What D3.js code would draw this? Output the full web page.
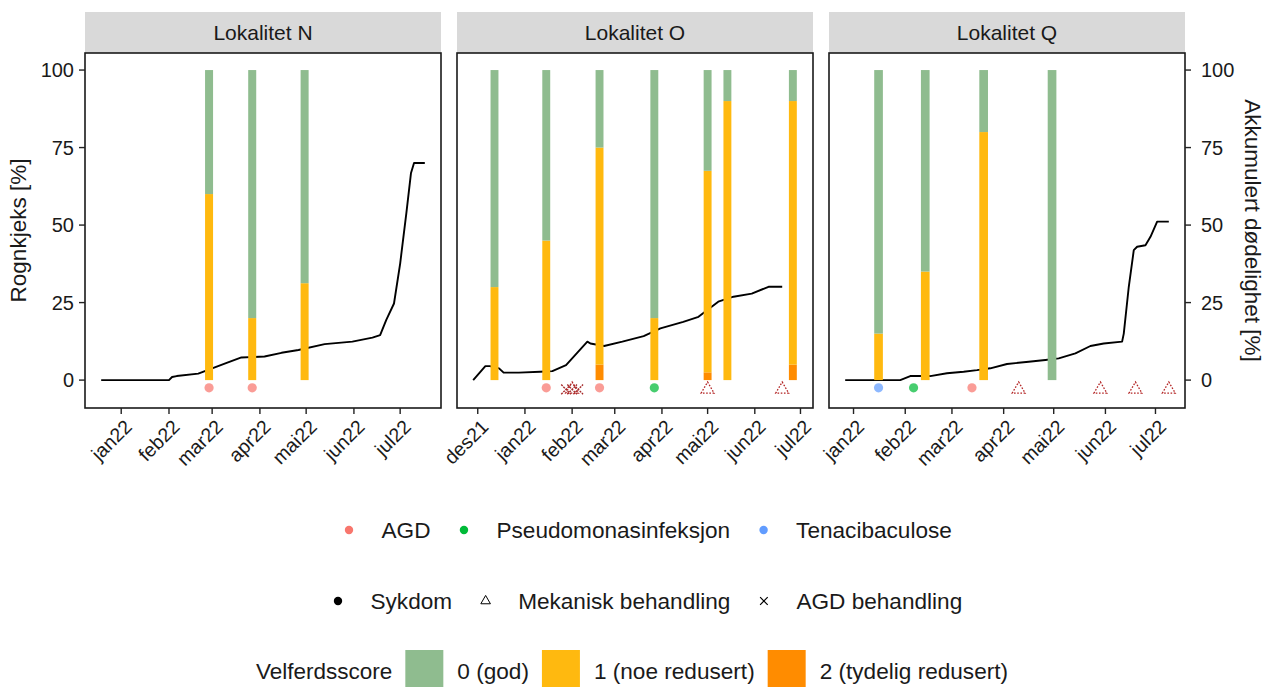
<!DOCTYPE html>
<html><head><meta charset="utf-8">
<script src="https://cdn.jsdelivr.net/npm/d3@7"></script>
<style>
body{margin:0;background:#fff}
svg{display:block}
text{font-family:"Liberation Sans",Arial,Helvetica,sans-serif;fill:#1a1a1a}
</style>
</head><body>
<svg id="chart" width="1267" height="687"></svg>
<script>
// ---------- DATA ----------
const panelNames = ["Lokalitet N", "Lokalitet O", "Lokalitet Q"];
const monthLabels = ["jan","feb","mar","apr","mai","jun","jul","aug","sep","okt","nov","des"];
const yTickValues = [0, 25, 50, 75, 100];

// Accumulated mortality [%] (right axis)
const mortalityN = [["2021-12-19",0],["2022-02-01",0],["2022-02-03",1.0],["2022-02-06",1.3],["2022-02-20",2.1],
  ["2022-03-01",3.8],["2022-03-10",5.5],["2022-03-20",7.3],["2022-04-04",7.6],["2022-04-15",8.8],["2022-04-26",9.7],
  ["2022-05-13",11.6],["2022-05-31",12.4],["2022-06-13",13.7],["2022-06-18",14.5],["2022-06-22",19.4],["2022-06-27",24.7],
  ["2022-07-01",37.6],["2022-07-05",53.8],["2022-07-08",66.7],["2022-07-10",70],["2022-07-17",70]];
const mortalityO = [["2021-11-28",0],["2021-12-06",4.5],["2021-12-09",4.5],["2021-12-15",3.8],["2021-12-18",2.4],
  ["2021-12-28",2.4],["2022-01-11",2.7],["2022-01-19",2.9],["2022-01-28",4.8],["2022-02-04",8.6],["2022-02-11",12.4],
  ["2022-02-13",11.8],["2022-02-22",11.0],["2022-03-06",12.4],["2022-03-20",14.2],["2022-03-31",16.7],["2022-04-15",18.8],
  ["2022-04-25",20.4],["2022-05-08",25.3],["2022-05-18",26.9],["2022-05-30",27.9],["2022-06-10",30.1],["2022-06-19",30.1]];
const mortalityQ = [["2021-12-27",0],["2022-01-29",0],["2022-02-04",1.3],["2022-02-16",1.3],["2022-02-26",2.2],
  ["2022-03-08",2.7],["2022-03-16",3.2],["2022-03-24",3.8],["2022-04-03",5.2],["2022-04-16",5.9],["2022-04-26",6.5],
  ["2022-05-04",7.0],["2022-05-14",8.6],["2022-05-23",11.0],["2022-05-31",11.8],["2022-06-11",12.4],["2022-06-12",15],
  ["2022-06-15",30.1],["2022-06-18",41.9],["2022-06-20",43],["2022-06-25",43.5],["2022-06-28",46.2],["2022-07-02",51.1],
  ["2022-07-09",51.1]];

// Welfare score shares (Rognkjeks [%]): [date, score2, score1, score0]
const welfareN = [["2022-02-27",0,60,40],["2022-03-27",0,20,80],["2022-04-30",0,31.25,68.75]];
const welfareO = [["2021-12-12",0,30,70],["2022-01-15",0,45,55],["2022-02-19",5,70,25],["2022-03-27",0,20,80],
  ["2022-05-01",2.5,65,32.5],["2022-05-14",0,90,10],["2022-06-26",5,85,10]];
const welfareQ = [["2022-01-16",0,15,85],["2022-02-13",0,35,65],["2022-03-20",0,80,20],["2022-04-30",0,0,100]];

// Disease observations
const diseaseN = [["2022-02-27","AGD"],["2022-03-27","AGD"]];
const diseaseO = [["2022-01-15","AGD"],["2022-02-19","AGD"],["2022-03-27","Pseudomonasinfeksjon"]];
const diseaseQ = [["2022-01-16","Tenacibaculose"],["2022-02-06","Pseudomonasinfeksjon"],["2022-03-13","AGD"]];

// Treatments
const treatmentN = [];
const treatmentO = [["2022-01-28","AGD behandling"],["2022-02-01","AGD behandling"],["2022-02-05","AGD behandling"],
  ["2022-02-01","Mekanisk behandling"],["2022-05-01","Mekanisk behandling"],["2022-06-19","Mekanisk behandling"]];
const treatmentQ = [["2022-04-10","Mekanisk behandling"],["2022-05-29","Mekanisk behandling"],
  ["2022-06-19","Mekanisk behandling"],["2022-07-09","Mekanisk behandling"]];

const diseaseTypes = ["AGD", "Pseudomonasinfeksjon", "Tenacibaculose"];
const diseaseColors = ["#F8766D", "#00BA38", "#619CFF"];
const eventTypes = ["Sykdom", "Mekanisk behandling", "AGD behandling"];
const scoreLabels = ["0 (god)", "1 (noe redusert)", "2 (tydelig redusert)"];
const scoreColors = ["#8FBC8F", "#FFB90F", "#FF8C00"];
const legendTitle = "Velferdsscore";
const yTitleLeft = "Rognkjeks [%]";
const yTitleRight = "Akkumulert dødelighet [%]";

// ---------- LAYOUT ----------
const parse = d3.timeParse("%Y-%m-%d");
const DAY = 864e5;
const panelX0 = [85, 457, 829];
const panelW = 356;
const plotTop = 53, plotBottom = 408, stripTop = 12;
const barHalfDays = 2.6;

const svg = d3.select("#chart");
const y = d3.scaleLinear().domain([-9, 105.5]).range([plotBottom, plotTop]);
const diseaseColor = d3.scaleOrdinal().domain(diseaseTypes).range(diseaseColors);
const scoreColor = d3.scaleOrdinal().domain([0,1,2]).range(scoreColors);

const panels = [
  {name: panelNames[0], line: mortalityN, bars: welfareN, dis: diseaseN, tr: treatmentN},
  {name: panelNames[1], line: mortalityO, bars: welfareO, dis: diseaseO, tr: treatmentO},
  {name: panelNames[2], line: mortalityQ, bars: welfareQ, dis: diseaseQ, tr: treatmentQ}
];

const triPath = d3.symbol().type(d3.symbolTriangle).size(72)();
const crossPath = "M-4.8,-4.8L4.8,4.8M-4.8,4.8L4.8,-4.8";

panels.forEach((p, i) => {
  const x0 = panelX0[i], x1 = x0 + panelW;
  const times = [];
  p.line.forEach(d => times.push(+parse(d[0])));
  p.bars.forEach(d => { times.push(+parse(d[0]) - barHalfDays*DAY); times.push(+parse(d[0]) + barHalfDays*DAY); });
  p.dis.forEach(d => times.push(+parse(d[0])));
  p.tr.forEach(d => times.push(+parse(d[0])));
  const ext = d3.extent(times);
  const pad = (ext[1] - ext[0]) * 0.05;
  const x = d3.scaleTime().domain([new Date(ext[0]-pad), new Date(ext[1]+pad)]).range([x0, x1]);

  const g = svg.append("g");
  g.append("rect").attr("x", x0).attr("y", stripTop).attr("width", panelW).attr("height", plotTop - stripTop)
    .attr("fill", "#d9d9d9");
  g.append("text").attr("x", (x0+x1)/2).attr("y", (stripTop+plotTop)/2).attr("text-anchor","middle")
    .attr("dominant-baseline","central").style("font-size","21px").text(p.name);

  const clipId = "clip" + i;
  svg.append("clipPath").attr("id", clipId).append("rect")
    .attr("x", x0).attr("y", plotTop).attr("width", panelW).attr("height", plotBottom - plotTop);
  const pg = g.append("g").attr("clip-path", `url(#${clipId})`);

  const line = d3.line().x(d => x(parse(d[0]))).y(d => y(d[1]));
  pg.append("path").datum(p.line).attr("d", line).attr("fill","none")
    .attr("stroke","#000").attr("stroke-width",1.9).attr("stroke-linejoin","round");

  p.bars.forEach(b => {
    const t = +parse(b[0]);
    const xl = x(new Date(t - barHalfDays*DAY)), xr = x(new Date(t + barHalfDays*DAY));
    const vals = [b[1], b[2], b[3]];
    const scores = [2, 1, 0];
    let acc = 0;
    vals.forEach((v, k) => {
      if (v > 0) {
        pg.append("rect").attr("x", xl).attr("width", xr - xl)
          .attr("y", y(acc + v)).attr("height", y(acc) - y(acc + v))
          .attr("fill", scoreColor(scores[k]));
      }
      acc += v;
    });
  });

  pg.selectAll("circle.dis").data(p.dis).join("circle").attr("class","dis")
    .attr("cx", d => x(parse(d[0]))).attr("cy", y(-2.5)).attr("r", 4.6)
    .attr("fill", d => diseaseColor(d[1])).attr("fill-opacity", 0.72);

  p.tr.forEach(d => {
    const cx = x(parse(d[0])), cy = y(-3);
    if (d[1] === "Mekanisk behandling") {
      pg.append("path").attr("d", triPath).attr("transform", `translate(${cx},${cy})`)
        .attr("fill","none").attr("stroke","#b22222").attr("stroke-width",1.3).attr("stroke-dasharray","1.6,1.6");
    } else {
      pg.append("path").attr("d", crossPath).attr("transform", `translate(${cx},${cy})`)
        .attr("fill","none").attr("stroke","#a52a2a").attr("stroke-width",1.4).attr("stroke-dasharray","2,1");
    }
  });

  g.append("rect").attr("x", x0).attr("y", plotTop).attr("width", panelW).attr("height", plotBottom - plotTop)
    .attr("fill","none").attr("stroke","#1a1a1a").attr("stroke-width",1.6);

  const ticks = x.ticks(d3.timeMonth.every(1)).filter(t => t.getDate() === 1);
  ticks.forEach(t => {
    const tx = x(t);
    g.append("line").attr("x1", tx).attr("x2", tx).attr("y1", plotBottom).attr("y2", plotBottom + 6)
      .attr("stroke","#222").attr("stroke-width",1.4);
    g.append("text").attr("transform", `translate(${tx + 12},428) rotate(-45)`)
      .attr("text-anchor","end").style("font-size","19.5px")
      .text(monthLabels[t.getMonth()] + String(t.getFullYear()).slice(2));
  });

  if (i === 0) {
    yTickValues.forEach(v => {
      g.append("line").attr("x1", x0 - 6).attr("x2", x0).attr("y1", y(v)).attr("y2", y(v))
        .attr("stroke","#222").attr("stroke-width",1.4);
      g.append("text").attr("x", x0 - 11).attr("y", y(v)).attr("text-anchor","end")
        .attr("dominant-baseline","central").style("font-size","20px").text(v);
    });
  }
  if (i === panels.length - 1) {
    yTickValues.forEach(v => {
      g.append("line").attr("x1", x1).attr("x2", x1 + 6).attr("y1", y(v)).attr("y2", y(v))
        .attr("stroke","#222").attr("stroke-width",1.4);
      g.append("text").attr("x", x1 + 16).attr("y", y(v)).attr("text-anchor","start")
        .attr("dominant-baseline","central").style("font-size","20px").text(v);
    });
  }
});

const yMid = (plotTop + plotBottom) / 2;
svg.append("text").attr("transform", `translate(18,${yMid}) rotate(-90)`).attr("text-anchor","middle")
  .attr("dominant-baseline","central").style("font-size","22.5px").text(yTitleLeft);
svg.append("text").attr("transform", `translate(1252,${yMid}) rotate(90)`).attr("text-anchor","middle")
  .attr("dominant-baseline","central").style("font-size","22.5px").text(yTitleRight);

// ---------- LEGENDS ----------
const lg = svg.append("g");
(function(){
  let xx = 349; const yy = 530;
  diseaseTypes.forEach((t, k) => {
    lg.append("circle").attr("cx", xx).attr("cy", yy).attr("r", 4.2).attr("fill", diseaseColors[k]);
    const tx = lg.append("text").attr("x", xx + 32.5).attr("y", yy).attr("dominant-baseline","central")
      .style("font-size","22.6px").text(t);
    xx = xx + 32.5 + tx.node().getComputedTextLength() + 33.5;
  });
})();
(function(){
  let xx = 338; const yy = 601;
  eventTypes.forEach((t, k) => {
    if (k === 0) lg.append("circle").attr("cx", xx).attr("cy", yy).attr("r", 4.2).attr("fill", "#000");
    else if (k === 1) lg.append("path").attr("d", d3.symbol().type(d3.symbolTriangle).size(40)())
      .attr("transform", `translate(${xx},${yy})`).attr("fill","none").attr("stroke","#000").attr("stroke-width",1);
    else lg.append("path").attr("d", "M-3.8,-3.8L3.8,3.8M-3.8,3.8L3.8,-3.8")
      .attr("transform", `translate(${xx},${yy})`).attr("fill","none").attr("stroke","#000").attr("stroke-width",1.2);
    const tx = lg.append("text").attr("x", xx + 32.5).attr("y", yy).attr("dominant-baseline","central")
      .style("font-size","22.6px").text(t);
    xx = xx + 32.5 + tx.node().getComputedTextLength() + 33.5;
  });
})();
(function(){
  const yy = 671;
  const title = lg.append("text").attr("x", 256).attr("y", yy).attr("dominant-baseline","central")
    .style("font-size","22.5px").text(legendTitle);
  let xx = 256 + title.node().getComputedTextLength() + 13;
  scoreLabels.forEach((t, k) => {
    lg.append("rect").attr("x", xx).attr("y", yy - 21).attr("width", 38).attr("height", 42)
      .attr("fill", scoreColors[k]);
    const tx = lg.append("text").attr("x", xx + 38 + 14).attr("y", yy).attr("dominant-baseline","central")
      .style("font-size","22.6px").text(t);
    xx = xx + 38 + 14 + tx.node().getComputedTextLength() + 13;
  });
})();
</script>
</body></html>
